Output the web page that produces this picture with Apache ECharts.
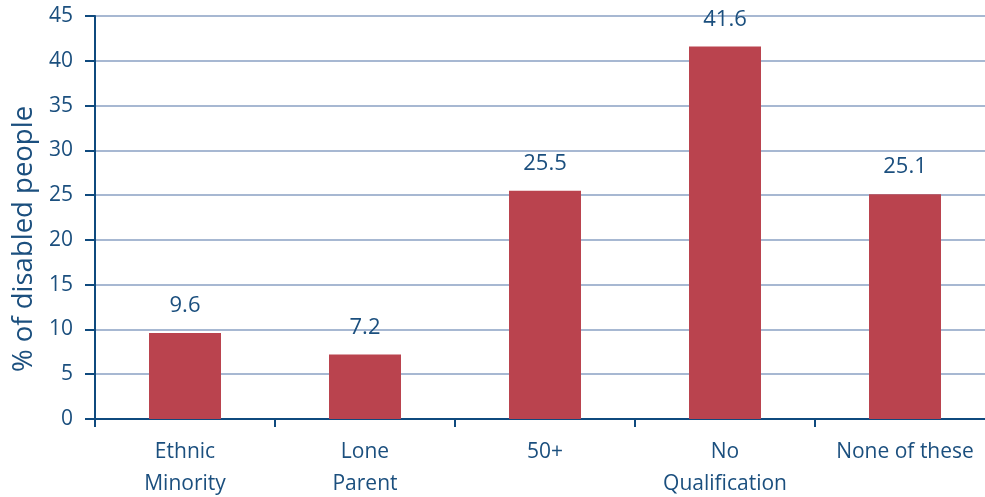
<!DOCTYPE html>
<html><head><meta charset="utf-8">
<script src="https://cdn.jsdelivr.net/npm/echarts@6/dist/echarts.min.js"></script>
<style>html,body{margin:0;padding:0;background:#fff}#c{width:985px;height:497px}</style>
</head><body><div id="c"></div>
<script>
var categories = ['Ethnic\nMinority', 'Lone\nParent', '50+', 'No\nQualification', 'None of these'];
var values = [9.6, 7.2, 25.5, 41.6, 25.1];
var yTitle = '% of disabled people';
var textColor = '#1B4F7E';
var chart = echarts.init(document.getElementById('c'));
chart.setOption({
  animation: false,
  grid: {left: 95, right: -10, top: 16, bottom: 78, containLabel: false, outerBoundsMode: 'none'},
  xAxis: {
    type: 'category', data: categories,
    axisLine: {lineStyle: {color: '#0F4A7E', width: 2}},
    axisTick: {show: true, length: 8, lineStyle: {color: '#0F4A7E', width: 2}},
    axisLabel: {color: textColor, fontFamily: 'Open Sans', fontSize: 21, lineHeight: 32, margin: 17, interval: 0}
  },
  yAxis: {
    type: 'value', min: 0, max: 45, interval: 5,
    name: yTitle, nameLocation: 'middle', nameGap: 57, nameRotate: 90,
    nameTextStyle: {color: textColor, fontFamily: 'Open Sans', fontSize: 27.5, padding: [0, 43, 0, 0]},
    axisLine: {show: true, lineStyle: {color: '#0F4A7E', width: 2}},
    axisTick: {show: true, length: 10, lineStyle: {color: '#0F4A7E', width: 2}},
    axisLabel: {color: textColor, fontFamily: 'Open Sans', fontSize: 21, margin: 22},
    splitLine: {lineStyle: {color: '#A7B8D2', width: 2}}
  },
  series: [{
    type: 'bar', data: values, barWidth: '40%',
    itemStyle: {color: '#BA434E'},
    label: {show: true, position: 'top', distance: 16, color: textColor, fontFamily: 'Open Sans', fontSize: 22}
  }]
});
</script></body></html>
